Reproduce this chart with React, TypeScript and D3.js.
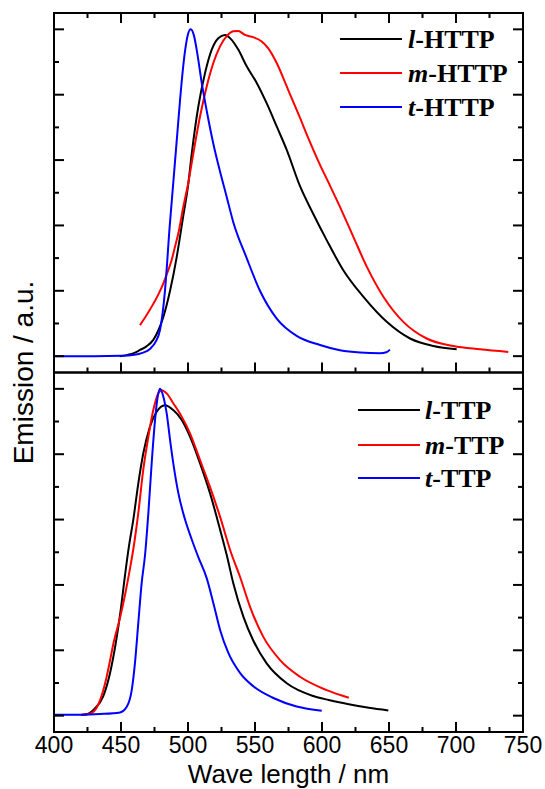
import React from "react";
import * as d3 from "d3";

type P = [number, number];

const tHTTP: P[] = [[400,0],[430,0],[450,0.001],[460,0.004],[466,0.01],[471.6,0.022],[476,0.045],[479.1,0.08],[481,0.13],[482.8,0.2],[484.5,0.29],[486,0.38],[488,0.48],[490,0.58],[492,0.68],[494,0.78],[496,0.87],[498,0.94],[500,0.985],[502,1.0],[504.5,0.98],[507,0.925],[510.1,0.84],[514,0.75],[518.9,0.65],[523.9,0.565],[528.4,0.495],[533.8,0.41],[543.8,0.3],[553.7,0.2],[566.2,0.115],[581.1,0.062],[598.5,0.034],[613.4,0.018],[628.4,0.011],[643.3,0.009],[648,0.012],[650.7,0.02]];
const lHTTP: P[] = [[449,0],[455,0.004],[460,0.01],[464.2,0.019],[469,0.03],[474.1,0.05],[478,0.08],[481.6,0.12],[486.6,0.2],[491.6,0.304],[496.5,0.43],[500,0.52],[502.8,0.62],[507.7,0.764],[512.7,0.866],[517.7,0.938],[522.6,0.973],[527.6,0.983],[532.6,0.968],[537.5,0.938],[543.8,0.887],[551.3,0.836],[558.7,0.774],[566.2,0.703],[573.6,0.632],[583.6,0.52],[593.5,0.435],[603.5,0.355],[615.9,0.263],[630.8,0.182],[648.3,0.105],[665.7,0.054],[683.1,0.031],[700.5,0.021]];
const mHTTP: P[] = [[464.2,0.095],[469,0.125],[474.1,0.16],[478,0.19],[481.6,0.223],[485,0.26],[487.8,0.294],[490,0.33],[492.8,0.376],[496.5,0.457],[500.2,0.53],[504,0.621],[509,0.734],[514,0.826],[518.9,0.897],[523.9,0.948],[528.9,0.979],[533.8,0.994],[537.5,0.995],[542.5,0.983],[548.7,0.976],[555,0.963],[559.9,0.942],[566.2,0.897],[573.6,0.826],[583,0.735],[590,0.665],[598,0.59],[605,0.53],[613.4,0.457],[623.4,0.365],[633.4,0.274],[645.8,0.182],[660.7,0.105],[678.1,0.054],[698,0.031],[717.9,0.021],[739,0.013]];

const tTTP: P[] = [[400,0.003],[420,0.003],[434.3,0.005],[449.3,0.01],[454.3,0.027],[458,0.078],[460.4,0.16],[462.9,0.283],[465.4,0.405],[467.9,0.49],[470.4,0.619],[472.9,0.773],[475.4,0.904],[477.4,0.976],[479.1,1.0],[481.6,0.976],[484.1,0.925],[486.6,0.844],[489,0.773],[492.8,0.681],[497.8,0.6],[502.8,0.539],[507.7,0.485],[514,0.42],[518.9,0.345],[523.9,0.263],[530.1,0.192],[538.8,0.131],[548.7,0.09],[563.7,0.054],[581.1,0.028],[599.8,0.015]];
const lTTP: P[] = [[420,0.002],[425,0.005],[430,0.02],[436.8,0.06],[441.8,0.13],[446,0.22],[450,0.33],[453,0.43],[456,0.52],[459.2,0.6],[462.9,0.71],[466.6,0.802],[471.6,0.884],[476.6,0.93],[482.8,0.95],[489,0.935],[495.3,0.905],[501.5,0.854],[509,0.772],[516.4,0.681],[523.9,0.57],[529,0.49],[533.8,0.405],[541.3,0.303],[548.7,0.23],[558.7,0.16],[573.7,0.099],[593.5,0.06],[605,0.048],[620,0.035],[635,0.024],[649.5,0.016]];
const mTTP: P[] = [[420,0.002],[425,0.004],[429.7,0.013],[434.6,0.05],[438.8,0.11],[441.4,0.16],[444.3,0.22],[449.3,0.3],[453,0.37],[456.7,0.45],[459.2,0.51],[462.9,0.62],[466.6,0.752],[470.4,0.853],[474.1,0.935],[477.8,0.986],[480.4,0.996],[484.1,0.986],[489,0.956],[495.3,0.915],[501.5,0.864],[509,0.782],[516.4,0.7],[523.9,0.609],[532,0.5],[538.8,0.425],[546.3,0.333],[556.2,0.241],[568.7,0.17],[583.6,0.119],[603.5,0.078],[620,0.055]];

const xTicks = d3.range(400, 751, 25);
const xLabels = [400, 450, 500, 550, 600, 650, 700, 750];
const yTicks = d3.range(0, 11).map((i) => i / 10);

const topSeries = [
  { name: "HTTP", prefix: "l", color: "#000000", data: lHTTP },
  { name: "HTTP", prefix: "m", color: "#ff0000", data: mHTTP },
  { name: "HTTP", prefix: "t", color: "#0000ff", data: tHTTP },
];
const botSeries = [
  { name: "TTP", prefix: "l", color: "#000000", data: lTTP },
  { name: "TTP", prefix: "m", color: "#ff0000", data: mTTP },
  { name: "TTP", prefix: "t", color: "#0000ff", data: tTTP },
];

const L = 54, R = 523, T = 13, M = 372.5, B = 732;

export default function App() {
  const x = d3.scaleLinear().domain([400, 750]).range([L, R]);
  const yTop = d3.scaleLinear().domain([-0.05, 1.05]).range([M, T]);
  const yBot = d3.scaleLinear().domain([-0.05, 1.05]).range([B, M]);

  const mkLine = (y: d3.ScaleLinear<number, number>) =>
    d3.line<P>().x((d) => x(d[0])).y((d) => y(d[1])).curve(d3.curveMonotoneX);

  const yTicksFor = (y: d3.ScaleLinear<number, number>, key: string) =>
    yTicks.map((v, i) => {
      const len = i % 2 === 0 ? 10 : 5;
      const yy = y(v);
      return (
        <g key={key + i}>
          <line x1={L} x2={L + len} y1={yy} y2={yy} stroke="#000" strokeWidth={2} />
          <line x1={R - len} x2={R} y1={yy} y2={yy} stroke="#000" strokeWidth={2} />
        </g>
      );
    });

  const xTicksAt = (yy: number, dir: number, key: string) =>
    xTicks.map((v, i) => {
      const len = v % 50 === 0 ? 10 : 5;
      return (
        <line key={key + i} x1={x(v)} x2={x(v)} y1={yy} y2={yy + dir * len} stroke="#000" strokeWidth={2} />
      );
    });

  const legend = (series: typeof topSeries, x1: number, x2: number, tx: number, ys: number[]) =>
    series.map((s, i) => (
      <g key={s.prefix + s.name}>
        <line x1={x1} x2={x2} y1={ys[i]} y2={ys[i]} stroke={s.color} strokeWidth={2} />
        <text x={tx} y={ys[i] + 9} fontFamily="'Liberation Serif', 'Times New Roman', serif" fontWeight="bold" fontSize={26}>
          <tspan fontStyle="italic">{s.prefix}</tspan>-{s.name}
        </text>
      </g>
    ));

  const lt = mkLine(yTop);
  const lb = mkLine(yBot);

  return (
    <svg width={545} height={789} style={{ position: "absolute", left: 0, top: 0, background: "#fff" }}>
      {topSeries.map((s) => (
        <path key={"t" + s.prefix} d={lt(s.data) || ""} fill="none" stroke={s.color} strokeWidth={2} />
      ))}
      {botSeries.map((s) => (
        <path key={"b" + s.prefix} d={lb(s.data) || ""} fill="none" stroke={s.color} strokeWidth={2} />
      ))}
      <rect x={L} y={T} width={R - L} height={M - T} fill="none" stroke="#000" strokeWidth={2} />
      <rect x={L} y={M} width={R - L} height={B - M} fill="none" stroke="#000" strokeWidth={2} />
      {yTicksFor(yTop, "yt")}
      {yTicksFor(yBot, "yb")}
      {xTicksAt(T, 1, "xt")}
      {xTicksAt(M, -1, "xm")}
      {xTicksAt(B, -1, "xb")}
      {xLabels.map((v) => (
        <text key={"xl" + v} x={x(v)} y={753} textAnchor="middle" fontFamily="'Liberation Sans', Arial, sans-serif" fontSize={23}>
          {v}
        </text>
      ))}
      <text x={(L + R) / 2} y={783} textAnchor="middle" fontFamily="'Liberation Sans', Arial, sans-serif" fontSize={26}>
        Wave length / nm
      </text>
      <text transform={`translate(33, ${M}) rotate(-90)`} textAnchor="middle" fontFamily="'Liberation Sans', Arial, sans-serif" fontSize={28}>
        Emission / a.u.
      </text>
      {legend(topSeries, 340, 402, 408, [39, 73, 107])}
      {legend(botSeries, 358, 420, 425, [410, 445, 478])}
    </svg>
  );
}
